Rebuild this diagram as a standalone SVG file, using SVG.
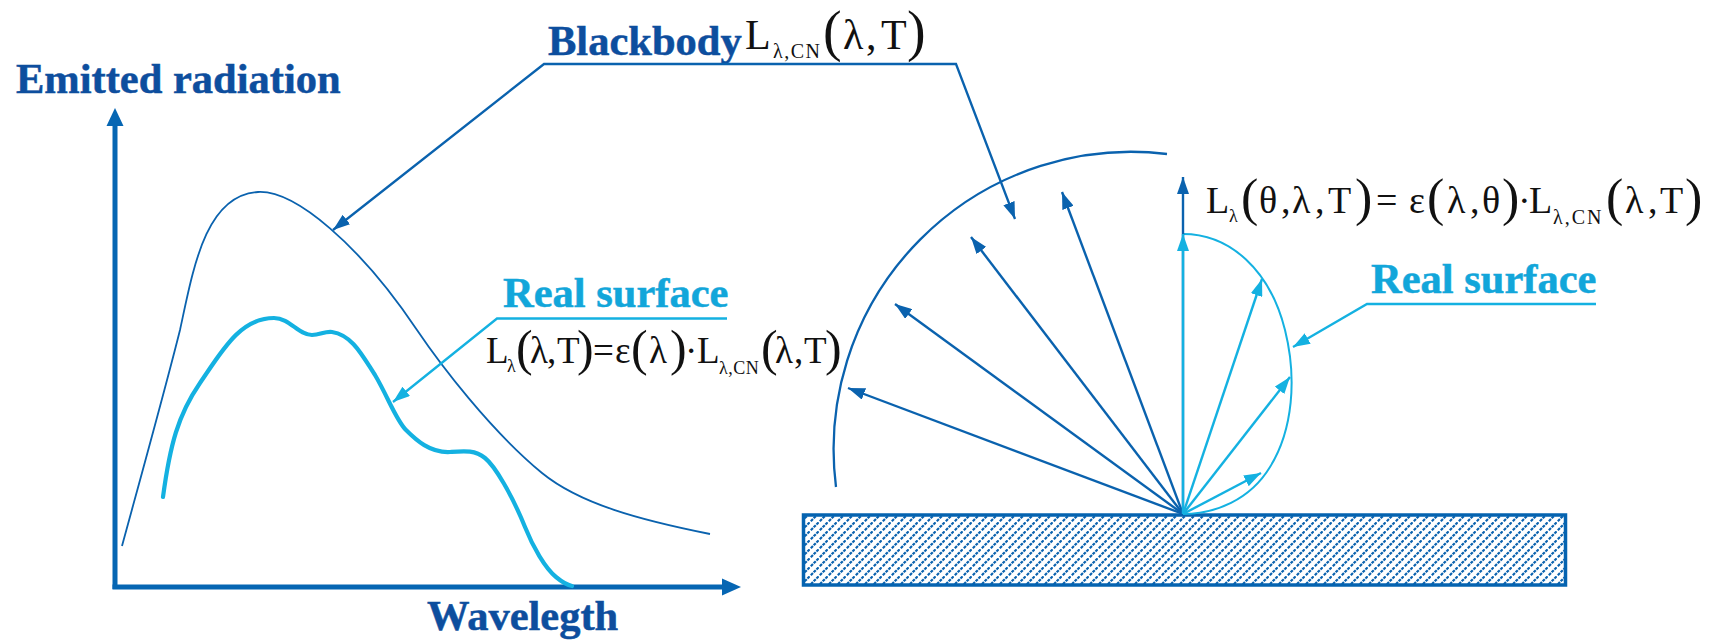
<svg xmlns="http://www.w3.org/2000/svg" width="1709" height="641" viewBox="0 0 1709 641">
<style>
.lbl{font-family:"Liberation Serif","Times New Roman",serif;font-weight:bold;font-size:42.5px;stroke-width:0.5px}
.dk{fill:#0D4E9E;stroke:#0D4E9E}
.lt{fill:#12A6DA;stroke:#12A6DA}
.f{font-family:"Liberation Serif","Times New Roman",serif;fill:#111}
.ld{stroke:#0A62AE;fill:none;stroke-width:2.3px}
.ll{stroke:#14B1E1;fill:none;stroke-width:2.3px}
.thin{stroke-width:1.8px}
.w2{stroke-width:2px}
.w24{stroke-width:2.4px}
.thick{stroke-width:4.2px;stroke-linecap:round}
.axis{stroke:#0666B3;stroke-width:5px;fill:none}
</style>
<defs>
<marker id="ahD" viewBox="0 0 17 12" refX="17" refY="6" markerWidth="17" markerHeight="12" markerUnits="userSpaceOnUse" orient="auto-start-reverse"><path d="M0,0 L17,6 L0,12 z" fill="#0A62AE"/></marker>
<marker id="ahL" viewBox="0 0 17 12" refX="17" refY="6" markerWidth="17" markerHeight="12" markerUnits="userSpaceOnUse" orient="auto"><path d="M0,0 L17,6 L0,12 z" fill="#14B1E1"/></marker>
<pattern id="hatch" patternUnits="userSpaceOnUse" width="9" height="9">
<path d="M-2,11 L11,-2" stroke="#0A62AE" stroke-width="2.2" stroke-dasharray="3 1"/>
</pattern>
</defs>
<rect width="1709" height="641" fill="#fff"/>

<g id="axes">
<line class="axis" x1="115" y1="124" x2="115" y2="589"/>
<polygon points="115,108 106.5,126 123.5,126" fill="#0666B3"/>
<line class="axis" x1="112.5" y1="587" x2="724" y2="587"/>
<polygon points="741,587 722,578.5 722,595.5" fill="#0666B3"/>
</g>
<g id="label-emitted"><text class="lbl dk" x="16" y="93">Emitted radiation</text></g>
<g id="label-wavelength"><text class="lbl dk" x="427" y="630">Wavelegth</text></g>

<g id="curve-blackbody">
<path class="ld thin" d="M122,546 C140,480 165,390 180,330 C193,270 205,195 258,192 C295,190 360,245 417,330 C440,364 490,430 542,473 C580,504 640,520 710,534"/>
</g>
<g id="curve-real">
<path class="ll thick" d="M163,497 C170,445 178,415 200,383 C222,351 240,318 274,318 C290,318 298,335 312,335 C320,335 325,331 332,332 C352,335 362,355 375,375 C388,397 396,420 406,430 C416,440 430,453 450,452 C465,451 475,450 485,458 C495,466 512,495 525,527 C533,547 545,568 556,577 C562,582 567,585 572,586"/>
</g>

<g id="label-blackbody"><text class="lbl dk" x="548" y="55">Blackbody</text></g>
<g id="formula-blackbody">
<text class="f" font-size="42" y="49"><tspan x="745">L</tspan><tspan x="773" y="58" font-size="20" letter-spacing="1.5">λ,CN</tspan><tspan x="823" y="50" font-size="56">(</tspan><tspan x="843" y="49">λ</tspan><tspan x="866">,</tspan><tspan x="881">T</tspan><tspan x="907" y="50" font-size="56">)</tspan></text>
</g>

<g id="label-real-left"><text class="lbl lt" x="503" y="307">Real surface</text></g>
<g id="formula-left">
<text class="f" font-size="37" y="363"><tspan x="486">L</tspan><tspan x="507" y="372" font-size="18">λ</tspan><tspan x="516" y="365" font-size="50">(</tspan><tspan x="530" y="363">λ</tspan><tspan x="547">,</tspan><tspan x="557">T</tspan><tspan x="577" y="365" font-size="50">)</tspan><tspan x="593" y="363">=</tspan><tspan x="615">ε</tspan><tspan x="631" y="365" font-size="50">(</tspan><tspan x="649" y="363">λ</tspan><tspan x="670" y="365" font-size="50">)</tspan><tspan x="685" y="363">·</tspan><tspan x="697">L</tspan><tspan x="719" y="374" font-size="18" letter-spacing="0.5">λ,CN</tspan><tspan x="761" y="365" font-size="50">(</tspan><tspan x="775" y="363">λ</tspan><tspan x="794">,</tspan><tspan x="804">T</tspan><tspan x="825" y="365" font-size="50">)</tspan></text>
</g>

<g id="surface">
<rect x="803.5" y="515" width="762" height="70" fill="#fff"/>
<rect x="803.5" y="515" width="762" height="70" fill="url(#hatch)" stroke="#0563B0" stroke-width="3.5"/>
</g>
<g id="hemisphere">
<path class="ld" d="M836,487 A297.5,297.5 0 0 1 1167,154"/>
</g>
<g id="lobe">
<path class="ll w2" d="M1183,234 C1230,234 1270,270 1285,330 C1297,378 1293,430 1270,467 C1250,500 1215,514 1183,514"/>
</g>

<g id="label-real-right"><text class="lbl lt" x="1371" y="293">Real surface</text></g>
<g id="formula-right">
<text class="f" font-size="38" y="213"><tspan x="1206">L</tspan><tspan x="1229" y="222" font-size="18">λ</tspan><tspan x="1241" y="215" font-size="52">(</tspan><tspan x="1259" y="213">θ</tspan><tspan x="1281">,</tspan><tspan x="1292">λ</tspan><tspan x="1315">,</tspan><tspan x="1328">T</tspan><tspan x="1355" y="215" font-size="52">)</tspan><tspan x="1376" y="213">=</tspan><tspan x="1409">ε</tspan><tspan x="1427" y="215" font-size="52">(</tspan><tspan x="1447" y="213">λ</tspan><tspan x="1470">,</tspan><tspan x="1482">θ</tspan><tspan x="1502" y="215" font-size="52">)</tspan><tspan x="1518" y="213">·</tspan><tspan x="1529">L</tspan><tspan x="1553" y="224" font-size="20" letter-spacing="2">λ,CN</tspan><tspan x="1606" y="215" font-size="52">(</tspan><tspan x="1625" y="213">λ</tspan><tspan x="1648">,</tspan><tspan x="1660">T</tspan><tspan x="1685" y="215" font-size="52">)</tspan></text>
</g>

<g id="connectors">
<path class="ld" d="M333,230 L544,64 L956,64 L1015,219" marker-start="url(#ahD)" marker-end="url(#ahD)"/>
<path class="ll" d="M727,318.5 L497,318.5 L393,402" marker-end="url(#ahL)"/>
<path class="ll" d="M1596,304 L1367,304 L1293,347" marker-end="url(#ahL)"/>
<g class="ld w24">
<line x1="1183" y1="514" x2="848" y2="388" marker-end="url(#ahD)"/>
<line x1="1183" y1="514" x2="895" y2="304" marker-end="url(#ahD)"/>
<line x1="1183" y1="514" x2="971" y2="237" marker-end="url(#ahD)"/>
<line x1="1183" y1="514" x2="1062" y2="192" marker-end="url(#ahD)"/>
<line x1="1183" y1="514" x2="1183" y2="177" marker-end="url(#ahD)"/>
</g>
<g class="ll w24">
<line x1="1183" y1="514" x2="1183" y2="234" marker-end="url(#ahL)"/>
<line x1="1183" y1="514" x2="1262" y2="279" marker-end="url(#ahL)"/>
<line x1="1183" y1="514" x2="1290" y2="377" marker-end="url(#ahL)"/>
<line x1="1183" y1="514" x2="1261" y2="473" marker-end="url(#ahL)"/>
</g>
</g>
</svg>
